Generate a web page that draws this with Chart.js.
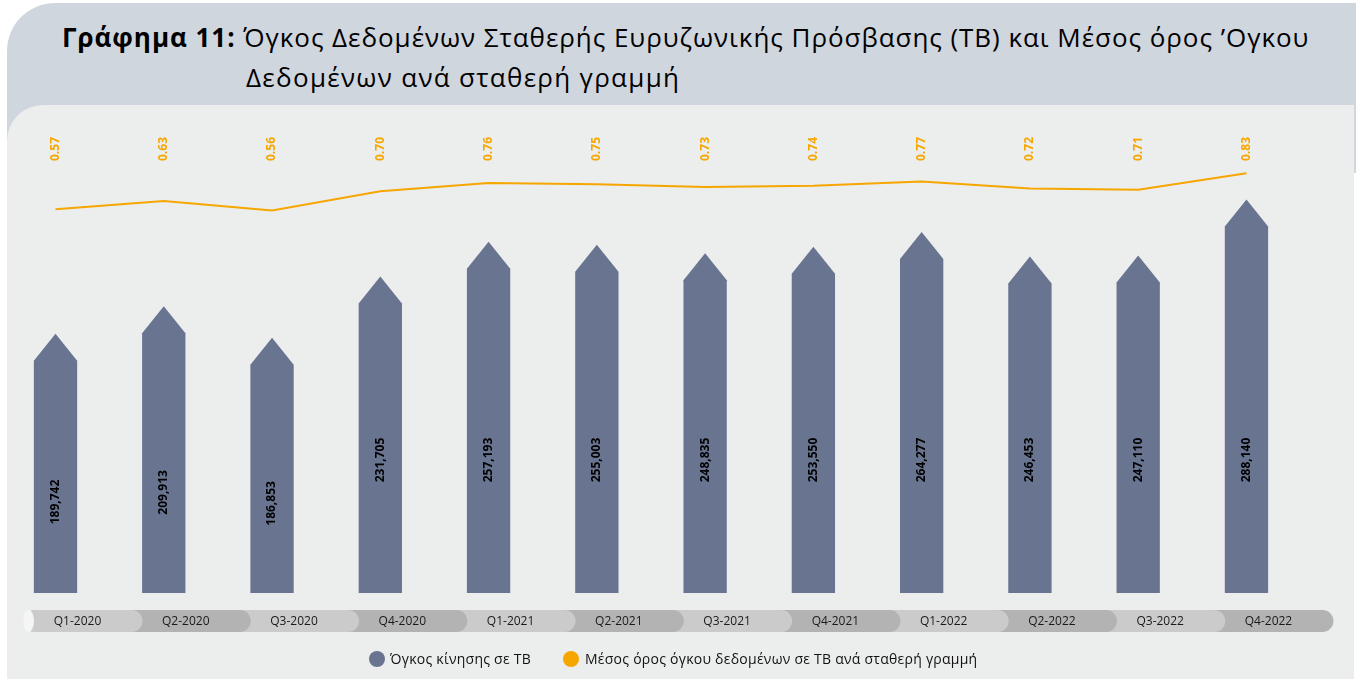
<!DOCTYPE html>
<html>
<head>
<meta charset="utf-8">
<script src="https://cdn.jsdelivr.net/npm/chart.js@4.4.1/dist/chart.umd.min.js"></script>
<style>
html,body{margin:0;padding:0;background:#ffffff;width:1356px;height:700px;overflow:hidden;font-family:"Open Sans",sans-serif;}
#hdr{position:absolute;left:7px;top:3px;width:1349px;height:170px;background:#d0d6de;border-top-left-radius:48px;}
#panel{position:absolute;left:7px;top:105px;width:1347px;height:574px;background:#eceeed;border-top-left-radius:36px;}
.t{position:absolute;white-space:nowrap;color:#000;font-size:26px;line-height:40px;letter-spacing:0.95px;}
#t1{left:62px;top:17px;}
#t2{left:246px;top:57px;letter-spacing:1.3px;}
#wrap{position:absolute;left:0;top:0;width:1356px;height:700px;}
.dot{position:absolute;width:16px;height:16px;border-radius:50%;}
.lt{position:absolute;white-space:nowrap;font-size:14px;line-height:18px;color:#111;letter-spacing:0.25px;}
</style>
</head>
<body>
<div id="hdr"></div>
<div id="panel"></div>
<div class="t" id="t1"><b>Γράφημα 11:</b> Όγκος Δεδομένων Σταθερής Ευρυζωνικής Πρόσβασης (TB) και Μέσος όρος ’Ογκου</div>
<div class="t" id="t2">Δεδομένων ανά σταθερή γραμμή</div>
<div id="wrap"><canvas id="c" width="1356" height="700"></canvas></div>
<div class="dot" style="left:369px;top:651px;background:#687490;"></div>
<div class="lt" style="left:390px;top:650px;" id="lg1"></div>
<div class="dot" style="left:563px;top:651px;background:#f7a600;"></div>
<div class="lt" style="left:585px;top:650px;" id="lg2"></div>
<script>
const categories = ['Q1-2020','Q2-2020','Q3-2020','Q4-2020','Q1-2021','Q2-2021','Q3-2021','Q4-2021','Q1-2022','Q2-2022','Q3-2022','Q4-2022'];
const trafficTB = [189742, 209913, 186853, 231705, 257193, 255003, 248835, 253550, 264277, 246453, 247110, 288140];
const avgPerLine = [0.57, 0.63, 0.56, 0.70, 0.76, 0.75, 0.73, 0.74, 0.77, 0.72, 0.71, 0.83];
const seriesNames = ['Όγκος κίνησης σε TB', 'Μέσος όρος όγκου δεδομένων σε TB ανά σταθερή γραμμή'];

document.getElementById('lg1').textContent = seriesNames[0];
document.getElementById('lg2').textContent = seriesNames[1];

const BAR_COLOR = '#687490';
const LINE_COLOR = '#f7a600';
const FONT = '"Open Sans", sans-serif';

const arrowPlugin = {
  id: 'arrows',
  beforeDatasetsDraw(chart) {
    const ctx = chart.ctx;
    const meta = chart.getDatasetMeta(1);
    ctx.save();
    ctx.fillStyle = BAR_COLOR;
    meta.data.forEach(el => {
      const w = el.width, x = el.x, top = el.y, base = el.base;
      const head = 27;
      ctx.beginPath();
      ctx.moveTo(x - w/2, base);
      ctx.lineTo(x - w/2, top + head);
      ctx.lineTo(x, top);
      ctx.lineTo(x + w/2, top + head);
      ctx.lineTo(x + w/2, base);
      ctx.closePath();
      ctx.fill();
    });
    ctx.restore();
  },
  afterDatasetsDraw(chart) {
    const ctx = chart.ctx;
    ctx.save();
    // bar value labels
    const bm = chart.getDatasetMeta(1);
    ctx.fillStyle = '#000';
    ctx.font = 'bold 12px ' + FONT;
    ctx.textAlign = 'center';
    ctx.textBaseline = 'middle';
    bm.data.forEach((el, i) => {
      const h = el.base - el.y;
      const d = h > 300 ? 133 : 0.351 * h;
      ctx.save();
      ctx.translate(el.x, el.base - d);
      ctx.rotate(-Math.PI/2);
      ctx.fillText(trafficTB[i].toLocaleString('en-US'), 0, 0);
      ctx.restore();
    });
    // line value labels
    const lm = chart.getDatasetMeta(0);
    ctx.fillStyle = LINE_COLOR;
    ctx.font = 'bold 12px ' + FONT;
    lm.data.forEach((el, i) => {
      ctx.save();
      ctx.translate(el.x, 149);
      ctx.rotate(-Math.PI/2);
      ctx.fillText(avgPerLine[i].toFixed(2), 0, 0);
      ctx.restore();
    });
    // category bands
    const xs = chart.scales.x;
    const y0 = 610, hh = 22, r = 11;
    for (let i = categories.length - 1; i >= 0; i--) {
      const cx = xs.getPixelForValue(i);
      const left = cx - 32.5, right = cx + 87;
      ctx.fillStyle = (i % 2 === 0) ? '#cbcbcb' : '#b3b3b3';
      ctx.beginPath();
      ctx.roundRect(left, y0, right - left, hh, i === 0 ? [r, r, r, r] : [0, r, r, 0]);
      ctx.fill();
    }
    const first = xs.getPixelForValue(0) - 32.5;
    ctx.fillStyle = '#f5f5f5';
    ctx.beginPath();
    ctx.ellipse(first + 5.5, y0 + hh/2, 5.5, hh/2, 0, 0, Math.PI * 2);
    ctx.fill();
    ctx.fillStyle = '#1a1a1a';
    ctx.font = '12px ' + FONT;
    ctx.textAlign = 'center';
    ctx.textBaseline = 'middle';
    categories.forEach((c, i) => {
      ctx.fillText(c, xs.getPixelForValue(i) + 22, y0 + hh/2 + 0.5);
    });
    ctx.restore();
  }
};

new Chart(document.getElementById('c'), {
  data: {
    labels: categories,
    datasets: [
      {type: 'line', label: seriesNames[1], data: avgPerLine, yAxisID: 'y2',
       borderColor: LINE_COLOR, borderWidth: 2, pointRadius: 0, tension: 0, order: 0},
      {type: 'bar', label: seriesNames[0], data: trafficTB, yAxisID: 'y',
       backgroundColor: 'rgba(0,0,0,0)', barPercentage: 0.4, categoryPercentage: 1, order: 1}
    ]
  },
  options: {
    responsive: false,
    animation: false,
    layout: {padding: {left: 1.36, right: 55.4, top: 115, bottom: 107}},
    plugins: {legend: {display: false}, tooltip: {enabled: false}},
    scales: {
      x: {display: false, offset: true},
      y: {display: false, min: 0, max: 350000},
      y2: {display: false, min: -2.2, max: 1.25}
    }
  },
  plugins: [arrowPlugin]
});
</script>
</body>
</html>
